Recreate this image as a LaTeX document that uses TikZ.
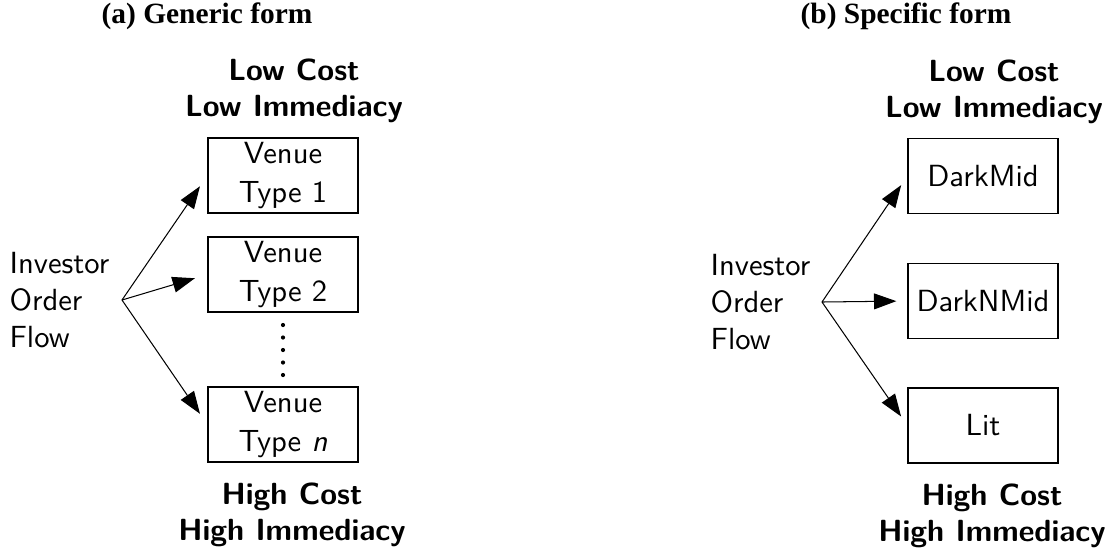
\documentclass[tikz,border=0pt]{standalone}
\usepackage{fontspec}
\newfontfamily\titlefont{Liberation Serif}
\usetikzlibrary{arrows.meta}
\def\u{0.34pt}
\tikzset{
  title/.style={font=\titlefont\bfseries\fontsize{10}{12}\selectfont, inner sep=0pt},
  plain/.style={font=\sffamily\fontsize{10.4}{12.6}\selectfont, align=left, inner sep=0pt},
  extreme/.style={font=\sffamily\bfseries\fontsize{10.4}{12.3}\selectfont, align=center, inner sep=0pt},
  venue/.style={draw, line width=0.45pt, font=\sffamily\fontsize{10.4}{13}\selectfont, align=center,
    minimum width=150*\u, minimum height=75*\u, inner sep=0pt},
  flow/.style={line width=0.35pt, -{Triangle[length=7.6pt,width=5.4pt]}},
}
\begin{document}
\begin{tikzpicture}[x=\u, y=-\u]
\useasboundingbox (0,0) rectangle (1114,553);

% ---------- (a) generic form ----------
\node[title] (ta) at (207,16) {(a) Generic form};
\node[extreme] (lowa) at (294,91) {Low Cost\\Low Immediacy};
\node[extreme] (higha) at (292,515) {High Cost\\High Immediacy};
\node[venue] (v1) at (283,175.5) {Venue\\Type 1};
\node[venue] (v2) at (283,274.5) {Venue\\Type 2};
\node[venue] (vn) at (283,424.5) {Venue\\Type \textit{n}};
\node[plain, anchor=west] (ia) at (9,300) {Investor\\Order\\Flow};
\coordinate (oa) at (122,300);
\draw[flow, shorten >=13*\u] (oa) -- (v1.west);
\draw[flow, shorten >=13*\u] (oa) -- (v2.west);
\draw[flow, shorten >=13*\u] (oa) -- (vn.west);
\foreach \y in {325,337.5,350,362.5,375}
  \fill (283,\y) circle[radius=2.1*\u];

% ---------- (b) specific form ----------
\node[title] (tb) at (906,16) {(b) Specific form};
\node[extreme] (lowb) at (994,92) {Low Cost\\Low Immediacy};
\node[extreme] (highb) at (992,516) {High Cost\\High Immediacy};
\node[venue] (dm) at (983,176) {DarkMid};
\node[venue] (dn) at (983,301) {DarkNMid};
\node[venue] (lit) at (983,425.5) {Lit};
\node[plain, anchor=west] (ib) at (710,302) {Investor\\Order\\Flow};
\coordinate (ob) at (822,302);
\draw[flow, shorten >=11*\u] (ob) -- (dm.west);
\draw[flow, shorten >=11*\u] (ob) -- (dn.west);
\draw[flow, shorten >=11*\u] (ob) -- (lit.west);
\end{tikzpicture}
\end{document}
